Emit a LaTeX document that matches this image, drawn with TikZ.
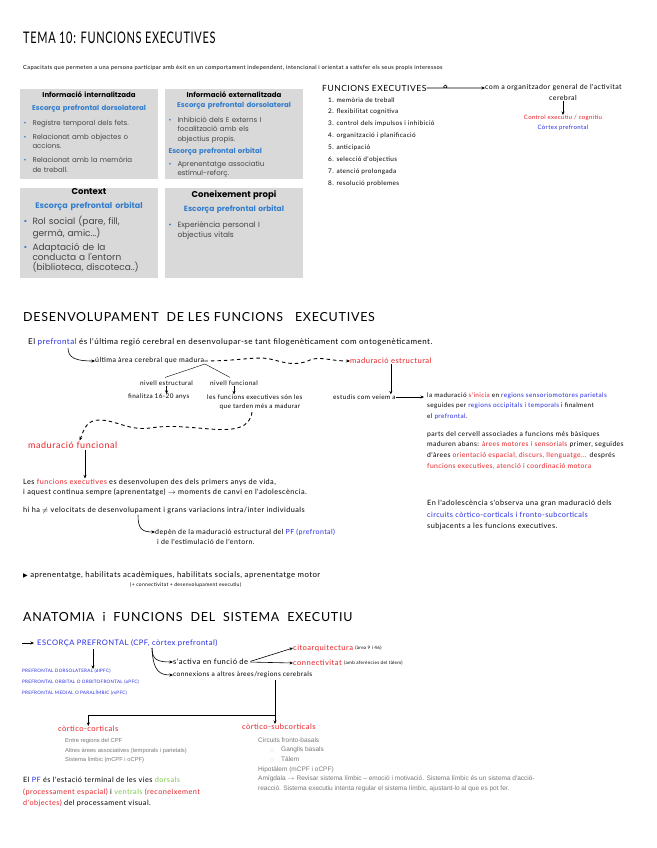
\documentclass[tikz,border=0pt]{standalone}
\usepackage{fontspec}
\usepackage{graphicx}
\setmainfont{Lato}
\newfontfamily\hand[LetterSpace=6]{Lato}
\newfontfamily\boxfont{Poppins}
\newfontfamily\grayfont{Liberation Sans}
\newfontfamily\symfont{DejaVu Sans}
\usetikzlibrary{positioning,arrows.meta,calc}

\definecolor{hred}{RGB}{232,32,38}
\definecolor{hblue}{RGB}{38,44,228}
\definecolor{hgreen}{RGB}{120,200,70}
\definecolor{bgreen}{RGB}{185,215,160}
\definecolor{boxgray}{RGB}{217,217,217}
\definecolor{boxblue}{RGB}{50,125,205}
\definecolor{boxtext}{RGB}{70,70,70}
\definecolor{lgray}{RGB}{120,120,120}

\newcommand{\fsz}[2]{\fontsize{#1}{#2}\selectfont}
\newcommand{\pitem}[1]{\par\hangindent=9pt\hangafter=1\noindent\hbox to 9pt{\textcolor{boxblue}{\textbullet}\hfil}#1\par}
\newcommand{\gbul}{\makebox[11pt][l]{\textcolor{bgreen}{\symfont\fsz{4.5}{4.5}○}}}

\begin{document}
\begin{tikzpicture}[x=1pt,y=-1pt,
    title/.style={font=\hand\fsz{11}{13}, anchor=west, inner sep=0pt},
    head/.style={font=\hand\fsz{12.5}{15}, anchor=west, inner sep=0pt},
    hwxs/.style={font=\hand\fsz{4.6}{11}, anchor=west, inner sep=0pt},
    hws/.style={font=\hand\fsz{6.4}{10.5}, anchor=west, inner sep=0pt},
    hw/.style={font=\hand\fsz{7}{10.7}, anchor=west, inner sep=0pt},
    hwl/.style={font=\hand\fsz{7.6}{11}, anchor=west, inner sep=0pt},
    hwxl/.style={font=\hand\fsz{9}{11}, anchor=west, inner sep=0pt},
    gr/.style={font=\grayfont\fsz{6.2}{9.6}, text=lgray, anchor=west, inner sep=0pt},
    panel/.style={fill=boxgray, draw=white, line width=1pt, minimum width=139pt, minimum height=91pt, anchor=north west, inner sep=0pt},
    panelin/.style={font=\boxfont\fsz{7}{9.5}, text=boxtext, text width=131pt, align=left, anchor=north, inner sep=0pt},
    arr/.style={-{Stealth[length=3.5pt,width=3pt]}, line width=0.6pt},
    wave/.style={arr, dash pattern=on 3.5pt off 3pt, line width=0.9pt}
]
\fill[white] (0,0) rectangle (656,848);
\useasboundingbox (0,0) rectangle (656,848);

\node[title] (tema) at (23,38) {\scalebox{1}[1.45]{TEMA 10: FUNCIONS EXECUTIVES}};
\node[hw, font=\hand\fsz{5.7}{7}] (capac) at (23,68) {Capacitats que permeten a una persona participar amb èxit en un comportament independent, intencional i orientat a satisfer els seus propis interessos};

% quadres
\node[panel] (b1) at (19,88) {};
\node[panel] (b2) at (164,88) {};
\node[panel] (b3) at (19,187) {};
\node[panel] (b4) at (164,187) {};

\node[panelin] (c1) at ($(b1.north)+(0,3.5)$) {{\centering\textcolor{black}{\textbf{Informació internalitzada}}\par}\vspace{3.5pt}{\centering\textcolor{boxblue}{\textbf{Escorça prefrontal dorsolateral}}\par}\vspace{5pt}\pitem{Registre temporal dels fets.}\vspace{4.5pt}\pitem{Relacionat amb objectes o\newline accions.}\vspace{4.5pt}\pitem{Relacionat amb la memòria\newline de treball.}};
\node[panelin] (c2) at ($(b2.north)+(0,3.5)$) {{\centering\textcolor{black}{\textbf{Informació externalitzada}}\par}\vspace{0.5pt}{\centering\textcolor{boxblue}{\textbf{Escorça prefrontal dorsolateral}}\par}\vspace{5pt}\pitem{Inhibició dels E externs I\newline focalització amb els\newline objectius propis.}\vspace{2.5pt}{\textcolor{boxblue}{\textbf{Escorça prefrontal orbital}}\par}\vspace{3.5pt}\pitem{Aprenentatge associatiu\newline estímul-reforç.}};
\node[panelin, font=\boxfont\fsz{9}{10}] (c3) at ($(b3.north)+(0,1.5)$) {{\centering\fsz{8.5}{10}\textcolor{black}{\textbf{Context}}\par}\vspace{4pt}{\centering\fsz{8}{10}\textcolor{boxblue}{\textbf{Escorça prefrontal orbital}}\par}\vspace{4pt}\pitem{Rol social (pare, fill,\newline germà, amic...)}\vspace{4pt}\pitem{Adaptació de la\newline conducta a l'entorn\newline (biblioteca, discoteca..)}};
\node[panelin, font=\boxfont\fsz{7.5}{10}] (c4) at ($(b4.north)+(0,3.5)$) {{\centering\fsz{8.5}{10}\textcolor{black}{\textbf{Coneixement propi}}\par}\vspace{4pt}{\centering\textcolor{boxblue}{\textbf{Escorça prefrontal orbital}}\par}\vspace{6pt}\pitem{Experiència personal I\newline objectius vitals}};

% funcions executives
\node[hwxl, font=\hand\fsz{8.5}{10}] (fe) at (322,88) {FUNCIONS EXECUTIVES};
\node[hw] (com) at (485,88) {com a organitzador general de l'activitat};
\node[hw, anchor=center] (cer) at (563,98) {cerebral};
\node[hws, anchor=center, text=hred, font=\hand\fsz{6}{8}] (ctl) at (563,118) {Control executiu / cognitiu};
\node[hws, anchor=center, text=hblue, font=\hand\fsz{6}{8}] (ctx) at (563,128) {Còrtex prefrontal};
\draw[arr] (fe.east) -- ++(18,0) .. controls +(3,0) and +(2,0) .. ++(1,-3) .. controls +(-2,0) and +(-3,0) .. ++(0,3) -- (com.west);
\draw[arr] (cer.south) -- (ctl.north);

\node[hws] (f1) at (328,100) {1. memòria de treball};
\node[hws] (f2) at (328,112) {2. flexibilitat cognitiva};
\node[hws] (f3) at (328,124) {3. control dels impulsos i inhibició};
\node[hws] (f4) at (328,136) {4. organització i planificació};
\node[hws] (f5) at (328,148) {5. anticipació};
\node[hws] (f6) at (328,160) {6. selecció d'objectius};
\node[hws] (f7) at (328,172) {7. atenció prolongada};
\node[hws] (f8) at (328,184) {8. resolució problemes};

% desenvolupament
\node[head] (desen) at (23,317) {DESENVOLUPAMENT\ \ DE LES FUNCIONS\ \ \ EXECUTIVES};
\node[hwl, font=\hand\fsz{8}{10}] (pfl) at (28,342) {El \textcolor{hblue}{prefrontal} és l'última regió cerebral en desenvolupar-se tant filogenèticament com ontogenèticament.};
\coordinate (pfc) at (68,348);
\node[hw] (ult) at (95,361) {última àrea cerebral que madura};
\node[hwl, text=hred] (mest) at (350,361) {maduració estructural};
\draw[arr] (pfc) .. controls (68,358) and (76,361) .. (ult.west);
\draw[wave] (ult.east) .. controls (240,361) and (255,356) .. (270,359) .. controls (283,362) and (295,367) .. (310,360) .. controls (320,356) and (330,361) .. (mest.west);

\coordinate (mad) at (205,364);
\node[hws] (nest) at (140,383) {nivell estructural};
\node[hws] (nfun) at (210,383) {nivell funcional};
\draw (mad) -- ($(nest.north east)+(-28,-3)$);
\draw (mad) -- ($(nfun.north west)+(20,-3)$);
\node[hws] (fin) at (128,397) {finalitza 16-20 anys};
\node[hws] (tar1) at (207,397) {les funcions executives són les};
\node[hws, anchor=center] (tar2) at (260,407) {que tarden més a madurar};
\draw[arr] (nest.south) -- (nest.south |- fin.north);
\draw[arr] (nfun.south) -- (nfun.south |- tar1.north);

\node[hwxl, text=hred] (mfun) at (28,445) {maduració funcional};
\draw[wave] ($(tar2.south)+(-8,2)$) .. controls (250,428) and (235,431) .. (210,429) .. controls (185,427) and (170,425) .. (150,428) .. controls (130,431) and (115,420) .. (100,420) .. controls (88,420) and (85,426) .. ($(mfun.north)+(7,-1)$);

\node[hws] (est) at (333,397) {estudis com veiem a};
\draw[arr] (mest.south) -- (mest.south |- est.north);
\node[hws, anchor=north west, align=left] (p1) at (427,392.5) {la maduració \textcolor{hred}{s'inicia} en \textcolor{hblue}{regions sensoriomotores parietals}\\ seguides per \textcolor{hblue}{regions occipitals i temporals} i finalment\\ el \textcolor{hblue}{prefrontal}.};
\draw[arr, shorten >=3pt] (est.east) -- (est.east -| p1.west);
\node[hws, anchor=north west, align=left, font=\hand\fsz{6.8}{10.7}] (p2) at (427,431) {parts del cervell associades a funcions més bàsiques\\ maduren abans: \textcolor{hred}{àrees motores i sensorials} primer, seguides\\ d'àrees \textcolor{hred}{orientació espacial, discurs, llenguatge...} després\\ \textcolor{hred}{funcions executives, atenció i coordinació motora}};
\node[hw, anchor=north west, align=left, font=\hand\fsz{7.3}{11.5}] (p3) at (427,500) {En l'adolescència s'observa una gran maduració dels\\ \textcolor{hblue}{circuits còrtico-corticals i fronto-subcorticals}\\ subjacents a les funcions executives.};

\coordinate (fc) at ($(mfun.south west)+(57,1)$);
\node[hw, font=\hand\fsz{7.3}{10}] (les1) at (23,482) {Les \textcolor{hred}{funcions executives} es desenvolupen des dels primers anys de vida,};
\node[hw, font=\hand\fsz{7.3}{10}] (les2) at (23,492) {i aquest continua sempre (aprenentatge) $\rightarrow$ moments de canvi en l'adolescència.};
\draw[arr] (fc) -- (fc |- les1.north);
\node[hw, font=\hand\fsz{7.3}{10}] (hiha) at (23,510) {hi ha $\neq$ velocitats de desenvolupament i grans variacions intra/inter individuals};
\coordinate (hk) at (138,515);
\node[hw] (dep) at (155,532) {depèn de la maduració estructural del \textcolor{hblue}{PF (prefrontal)}};
\node[hw] (dep2) at (157,542) {i de l'estimulació de l'entorn.};
\draw[arr] (hk) .. controls (138,529) and (142,532) .. (dep.west);

\node[hwl, font=\hand\fsz{7.8}{10}] (apr) at (23,575) {{\symfont\fsz{6}{6}▶} aprenentatge, habilitats acadèmiques, habilitats socials, aprenentatge motor};
\node[hwxs, font=\hand\fsz{5}{6}] (conx) at (130,585) {(+ connectivitat + desenvolupament executiu)};

% anatomia
\node[head] (anat) at (23,617) {ANATOMIA\ \ i\ \ FUNCIONS\ \ DEL\ \ SISTEMA\ \ EXECUTIU};
\node[hwl, text=hblue] (cpfh) at (37,643) {ESCORÇA PREFRONTAL (CPF, còrtex prefrontal)};
\coordinate (st) at (22,643);
\draw[arr, shorten >=3pt] (st) -- (cpfh.west);
\node[hwxs, anchor=north west, align=left, text=hblue] (plist) at (22,669) {PREFRONTAL DORSOLATERAL (dlPFC)\\ PREFRONTAL ORBITAL O ORBITOFRONTAL (oPFC)\\ PREFRONTAL MEDIAL O PARALÍMBIC (mPFC)};
\coordinate (cpd) at ($(cpfh.south west)+(56,2)$);
\draw[arr] (cpd) -- (cpd |- plist.north);

\coordinate (cpk) at (152,648);
\node[hwl] (act) at (173,662) {s'activa en funció de};
\node[hw, font=\hand\fsz{6.6}{8}] (con) at (173,675) {connexions a altres àrees/regions cerebrals};
\draw[arr] (cpk) .. controls (152,660) and (158,662) .. (act.west);
\draw[arr] (cpk) .. controls (153,672) and (160,675) .. (con.west);
\node[hwl, text=hred] (cito) at (293,648) {citoarquitectura};
\node[hwxs] (citp) at ([xshift=2pt]cito.east) {(àrea 9 i 46)};
\node[hwl, text=hred] (conn) at (293,663) {connectivitat};
\node[hwxs] (connp) at ([xshift=2pt]conn.east) {(amb aferències del tàlem)};
\draw[arr, shorten <=2pt] (act.east) -- (cito.west);
\draw[arr, shorten <=2pt] (act.east) -- (conn.west);

\coordinate (vt) at (275,680);
\coordinate (hz) at (275,715);
\node[hwl, text=hred] (cc) at (58,729) {còrtico-corticals};
\node[hwl, text=hred] (sub) at (242,727) {còrtico-subcorticals};
\draw[arr] (vt) -- (vt |- sub.north);
\draw[arr] (hz) -| (cc.north);

\node[gr, anchor=north west, align=left, font=\grayfont\fsz{5.8}{9.5}] (gl) at (65,738.5) {Entre regions del CPF\\ Altres àrees associatives (temporals i parietals)\\ Sistema límbic (mCPF i oCPF)};
\node[gr, anchor=north west, align=left, font=\grayfont\fsz{6.5}{9.6}] (gr2) at (258,737.3) {Circuits fronto-basals\\ \hspace*{12pt}\gbul Ganglis basals\\ \hspace*{12pt}\gbul Tàlem\\ Hipotàlem (mCPF i oCPF)\\ Amígdala $\rightarrow$ Revisar sistema límbic – emoció i motivació. Sistema límbic és un sistema d'acció-\\ reacció. Sistema executiu intenta regular el sistema límbic, ajustant-lo al que es pot fer.};

\node[hw, anchor=north west, align=left, font=\hand\fsz{7.3}{11.5}] (pfv) at (23,777) {El \textcolor{hblue}{PF} és l'estació terminal de les vies \textcolor{hgreen}{dorsals}\\ \textcolor{hred}{(processament espacial)} i \textcolor{hgreen}{ventrals} \textcolor{hred}{(reconeixement}\\ \textcolor{hred}{d'objectes)} del processament visual.};
\end{tikzpicture}
\end{document}
